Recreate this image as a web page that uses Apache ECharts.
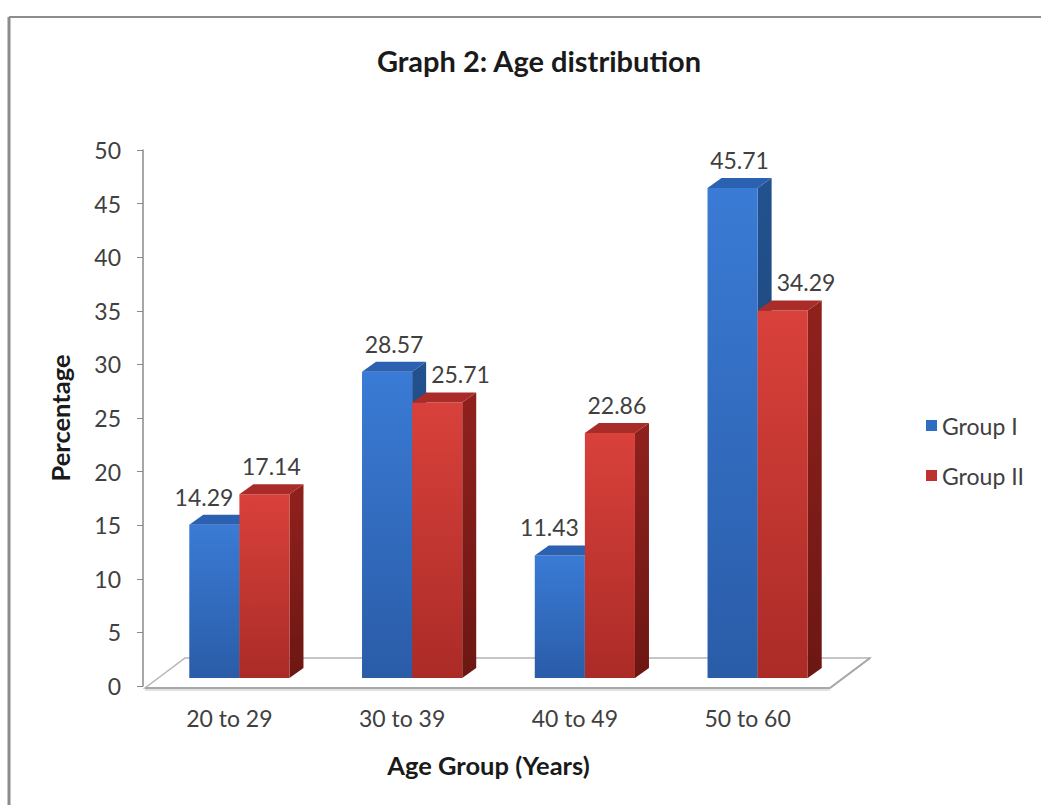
<!DOCTYPE html>
<html>
<head>
<meta charset="utf-8">
<title>Graph 2: Age distribution</title>
<script src="https://cdn.jsdelivr.net/npm/echarts@6/dist/echarts.min.js"></script>
<style>
  html, body { margin: 0; padding: 0; background: #ffffff; }
  #chart { width: 1041px; height: 805px; }
</style>
</head>
<body>
<div id="chart"></div>
<script>
// Age groups on the category axis
const categories = ['20 to 29', '30 to 39', '40 to 49', '50 to 60'];
// Percentage of each group falling in each age band
const groupI = [14.29, 28.57, 11.43, 45.71];
const groupII = [17.14, 25.71, 22.86, 34.29];
// Value axis range
const yMin = 0;
const yMax = 50;
const yStep = 5;

const FONT = 'Lato, "Open Sans", sans-serif';
const TEXT = '#404040';

// Pseudo-3D geometry (pixels)
const SHIFT_X = 10;   // front face offset from the axis plane
const SHIFT_Y = -8;
const DEPTH_X = 14;   // column depth
const DEPTH_Y = -10;
const FLOOR_X = 40;   // floor depth
const FLOOR_Y = -30;

const palettes = [
  { front: ['#3a7bd5', '#2a5ca8'], side: ['#22528f', '#183d6c'], top: '#2b61b0', legend: '#2f6cc4' },
  { front: ['#d9413b', '#ab2b27'], side: ['#90211d', '#6c1713'], top: '#aa2c28', legend: '#c0302c' }
];

function vGrad(c) {
  return new echarts.graphic.LinearGradient(0, 0, 0, 1, [
    { offset: 0, color: c[0] }, { offset: 1, color: c[1] }
  ]);
}

function barRenderer(slot) {
  const pal = palettes[slot];
  const other = slot === 0 ? groupII : groupI;
  return function (params, api) {
    const cat = api.value(0);
    const val = api.value(1);
    const band = api.size([1, 0])[0];
    const w = band * 0.29;
    const top = api.coord([cat, val]);
    const base = api.coord([cat, 0]);
    const x0 = base[0] + SHIFT_X + (slot === 0 ? -w : 0);
    const x1 = x0 + w;
    const yb = base[1] + SHIFT_Y;
    const yt = top[1] + SHIFT_Y;
    const dx = DEPTH_X, dy = DEPTH_Y;

    // label placement: nudge aside when the neighbouring column is taller
    const neighbourTaller = other[params.dataIndex] > val;
    let lx = (x0 + x1) / 2 + dx / 2;
    let align = 'center';
    if (neighbourTaller) {
      if (slot === 0) { lx = x1 - 6; align = 'right'; }
      else { lx = x0 + dx + 5; align = 'left'; }
    }

    return {
      type: 'group',
      children: [
        { type: 'polygon', shape: { points: [[x1, yb], [x1 + dx, yb + dy], [x1 + dx, yt + dy], [x1, yt]] },
          style: { fill: vGrad(pal.side) } },
        { type: 'rect', shape: { x: x0, y: yt, width: w, height: yb - yt },
          style: { fill: vGrad(pal.front) } },
        { type: 'polygon', shape: { points: [[x0, yt], [x0 + dx, yt + dy], [x1 + dx, yt + dy], [x1, yt]] },
          style: { fill: pal.top } },
        { type: 'text', z2: 10, style: { text: val.toFixed(2), x: lx, y: yt + dy - 18, align: align,
          verticalAlign: 'middle', fontSize: 23, fontFamily: FONT, fill: TEXT } }
      ]
    };
  };
}

function floorRenderer(params, api) {
  const cs = params.coordSys;
  const fl = [cs.x + 2, cs.y + cs.height + 2];
  const fr = [cs.x + cs.width - 4, fl[1]];
  const bl = [fl[0] + FLOOR_X, fl[1] + FLOOR_Y];
  const br = [fr[0] + FLOOR_X, fr[1] + FLOOR_Y];
  return {
    type: 'group',
    children: [
      { type: 'polygon', shape: { points: [fl, bl, br, fr] },
        style: { fill: '#ffffff', stroke: '#b4b4b4', lineWidth: 1.5 } },
      { type: 'line', shape: { x1: fl[0], y1: fl[1] + 2, x2: fr[0], y2: fr[1] + 2 },
        style: { stroke: '#e2e2e2', lineWidth: 2 } },
      { type: 'line', shape: { x1: fl[0], y1: fl[1], x2: fr[0], y2: fr[1] },
        style: { stroke: '#a8a8a8', lineWidth: 2 } },
      { type: 'line', shape: { x1: fr[0], y1: fr[1], x2: br[0], y2: br[1] },
        style: { stroke: '#a8a8a8', lineWidth: 2 } }
    ]
  };
}

const chart = echarts.init(document.getElementById('chart'), null, { renderer: 'svg' });

chart.setOption({
  backgroundColor: '#ffffff',
  animation: false,
  title: {
    text: 'Graph 2: Age distribution',
    left: 534,
    textAlign: 'center',
    top: 41,
    textStyle: { fontFamily: FONT, fontSize: 29, fontWeight: 'bold', color: '#1a1a1a' }
  },
  legend: {
    orient: 'vertical',
    left: 921,
    top: 409,
    icon: 'rect',
    itemWidth: 11,
    itemHeight: 11,
    itemGap: 27,
    data: ['Group I', 'Group II'],
    textStyle: { fontFamily: FONT, fontSize: 23, color: TEXT }
  },
  graphic: [
    { type: 'line', shape: { x1: 9, y1: 17, x2: 1041, y2: 17 }, style: { stroke: '#8c8c8c', lineWidth: 2 } },
    { type: 'line', shape: { x1: 9, y1: 17, x2: 9, y2: 805 }, style: { stroke: '#8c8c8c', lineWidth: 3 } }
  ],
  grid: { left: 143, right: 207, top: 150, bottom: 119 },
  xAxis: {
    type: 'category',
    data: categories,
    axisLine: { show: false },
    axisTick: { show: false },
    axisLabel: { fontFamily: FONT, fontSize: 23, color: TEXT, margin: 20 },
    name: 'Age Group (Years)',
    nameLocation: 'middle',
    nameGap: 66,
    nameTextStyle: { fontFamily: FONT, fontSize: 25.5, fontWeight: 'bold', color: '#1a1a1a' }
  },
  yAxis: {
    type: 'value',
    min: yMin,
    max: yMax,
    interval: yStep,
    axisLine: { show: true, lineStyle: { color: '#8a8a8a', width: 1.5 } },
    axisTick: { show: true, length: 6, lineStyle: { color: '#8a8a8a' } },
    axisLabel: { fontFamily: FONT, fontSize: 23, color: TEXT, margin: 22 },
    splitLine: { show: false },
    name: 'Percentage',
    nameLocation: 'middle',
    nameRotate: 90,
    nameGap: 70,
    nameTextStyle: { fontFamily: FONT, fontSize: 25.5, fontWeight: 'bold', color: '#1a1a1a' }
  },
  series: [
    {
      type: 'custom',
      name: 'floor',
      renderItem: floorRenderer,
      data: [[0, 0]],
      silent: true,
      z: 1
    },
    {
      type: 'custom',
      name: 'Group I',
      renderItem: barRenderer(0),
      itemStyle: { color: palettes[0].legend },
      encode: { x: 0, y: 1 },
      data: groupI.map((v, i) => [i, v]),
      z: 2
    },
    {
      type: 'custom',
      name: 'Group II',
      renderItem: barRenderer(1),
      itemStyle: { color: palettes[1].legend },
      encode: { x: 0, y: 1 },
      data: groupII.map((v, i) => [i, v]),
      z: 3
    }
  ]
});
</script>
</body>
</html>
